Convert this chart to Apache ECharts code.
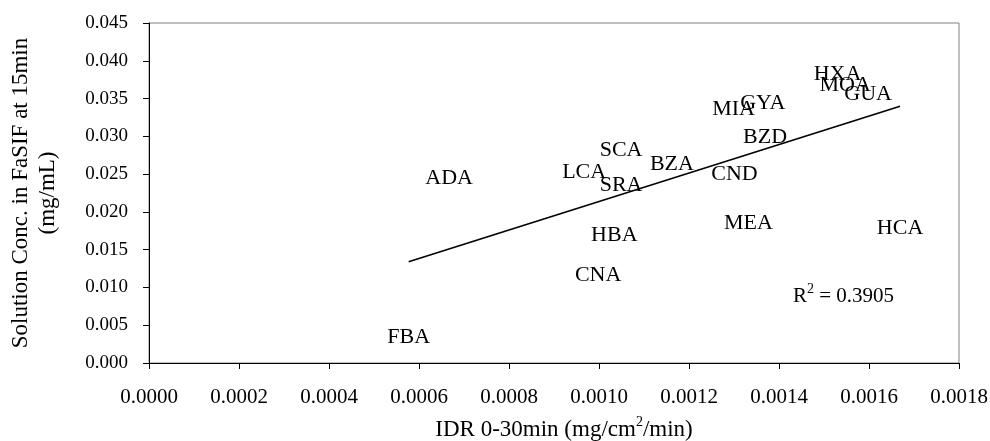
<!DOCTYPE html>
<html>
<head>
<meta charset="utf-8">
<script src="https://cdn.jsdelivr.net/npm/echarts@6/dist/echarts.min.js"></script>
<style>
  html, body { margin: 0; padding: 0; background: #ffffff; }
  #chart { width: 990px; height: 441px; }
</style>
</head>
<body>
<div id="chart"></div>
<script>
// Compound codes and their measured values
const compounds = ['ADA', 'LCA', 'SCA', 'SRA', 'BZA', 'CND', 'MIA', 'GYA', 'BZD',
                   'MEA', 'HBA', 'CNA', 'FBA', 'HCA', 'HXA', 'MOA', 'GUA'];
// Intrinsic dissolution rate 0-30 min (mg/cm2/min)
const idr = [0.000667, 0.000967, 0.001049, 0.001049, 0.001162, 0.001301, 0.001299, 0.001364, 0.001369,
             0.001332, 0.001034, 0.000998, 0.000577, 0.001669, 0.001530, 0.001547, 0.001598];
// Solution concentration in FaSIF at 15 min (mg/mL)
const conc = [0.02449, 0.02528, 0.02812, 0.02356, 0.02627, 0.02501, 0.03355, 0.03441, 0.02985,
              0.01853, 0.01694, 0.01165, 0.00337, 0.01787, 0.03818, 0.03679, 0.03560];

const xTicks = ['0.0000', '0.0002', '0.0004', '0.0006', '0.0008', '0.0010', '0.0012', '0.0014', '0.0016', '0.0018'];
const yTicks = ['0.000', '0.005', '0.010', '0.015', '0.020', '0.025', '0.030', '0.035', '0.040', '0.045'];
const r2Text = '0.3905';

// Least-squares linear trend through the points
const n = idr.length;
const mx = idr.reduce((a, b) => a + b, 0) / n;
const my = conc.reduce((a, b) => a + b, 0) / n;
let sxy = 0, sxx = 0;
for (let i = 0; i < n; i++) {
  sxy += (idr[i] - mx) * (conc[i] - my);
  sxx += (idr[i] - mx) * (idr[i] - mx);
}
const slope = sxy / sxx;
const intercept = my - slope * mx;
const xMin = Math.min(...idr), xMax = Math.max(...idr);
const trend = [[xMin, intercept + slope * xMin], [xMax, intercept + slope * xMax]];

const serif = '"Liberation Serif", "Times New Roman", serif';
const chart = echarts.init(document.getElementById('chart'), null, { renderer: 'canvas' });

chart.setOption({
  backgroundColor: '#ffffff',
  animation: false,
  textStyle: { fontFamily: serif, color: '#000' },
  grid: {
    left: 149, right: 31, top: 23, bottom: 78,
    containLabel: false,
    outerBoundsMode: 'none',
    show: true, borderColor: '#808080', borderWidth: 1, backgroundColor: 'transparent'
  },
  xAxis: {
    type: 'value',
    min: 0, max: 0.0018, interval: 0.0002,
    name: '{t|IDR 0-30min (mg/cm}{s|2}{t|/min)}',
    nameLocation: 'middle',
    nameGap: 52,
    nameTextStyle: {
      padding: [0, 0, 0, 20],
      rich: {
        t: { fontFamily: serif, fontSize: 23, color: '#000', verticalAlign: 'bottom', lineHeight: 26 },
        s: { fontFamily: serif, fontSize: 14, color: '#000', verticalAlign: 'top', lineHeight: 26 }
      }
    },
    axisLine: { show: true, lineStyle: { color: '#000', width: 1 } },
    axisTick: { show: true, inside: false, length: 6, lineStyle: { color: '#000' } },
    splitLine: { show: false },
    axisLabel: {
      fontFamily: serif, fontSize: 21, color: '#000', margin: 24,
      formatter: (v) => xTicks[Math.round(v / 0.0002)]
    }
  },
  yAxis: {
    type: 'value',
    min: 0, max: 0.045, interval: 0.005,
    name: 'Solution Conc. in FaSIF at 15min\n(mg/mL)',
    nameLocation: 'middle',
    nameGap: 88,
    nameRotate: 90,
    nameTextStyle: { fontFamily: serif, fontSize: 23, color: '#000', lineHeight: 27 },
    axisLine: { show: true, lineStyle: { color: '#000', width: 1 } },
    axisTick: { show: true, inside: false, length: 6, lineStyle: { color: '#000' } },
    splitLine: { show: false },
    axisLabel: {
      fontFamily: serif, fontSize: 19, color: '#000', margin: 21,
      formatter: (v) => yTicks[Math.round(v / 0.005)]
    }
  },
  series: [
    {
      type: 'line',
      data: trend,
      symbol: 'none',
      lineStyle: { color: '#000', width: 1.6 },
      z: 2,
      silent: true
    },
    {
      type: 'scatter',
      symbol: 'circle',
      symbolSize: 0.01,
      itemStyle: { color: '#000', opacity: 1 },
      emphasis: { disabled: true },
      data: compounds.map((c, i) => ({ name: c, value: [idr[i], conc[i]] })),
      label: {
        show: true,
        position: 'inside',
        formatter: (p) => p.name,
        fontFamily: serif,
        fontSize: 22,
        color: '#000000',
        opacity: 1,
        textBorderWidth: 0
      },
      labelLayout: { hideOverlap: false },
      z: 3
    }
  ],
  graphic: [
    {
      type: 'text',
      left: 793,
      top: 282,
      style: {
        text: '{r|R}{s|2}{r| = ' + r2Text + '}',
        rich: {
          r: { fontFamily: serif, fontSize: 21, fill: '#000', verticalAlign: 'bottom', lineHeight: 25 },
          s: { fontFamily: serif, fontSize: 14, fill: '#000', verticalAlign: 'top', lineHeight: 25 }
        }
      }
    }
  ]
});
</script>
</body>
</html>
